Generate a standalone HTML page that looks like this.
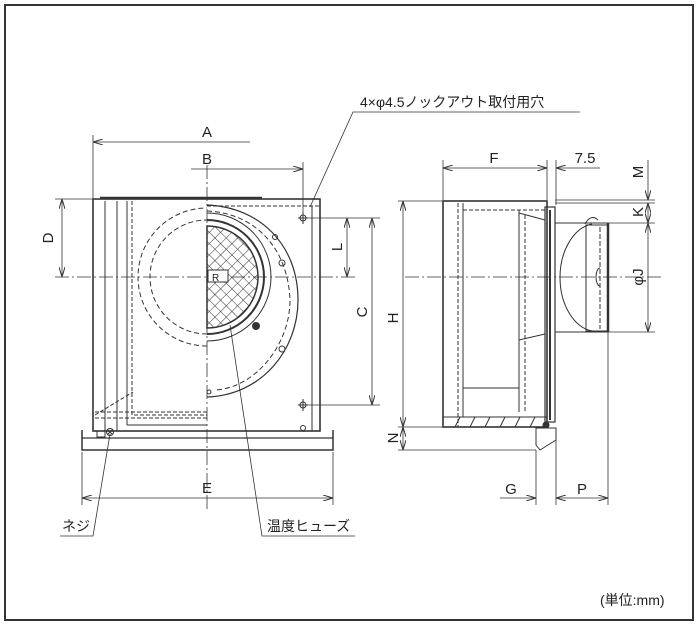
<!DOCTYPE html>
<html><head><meta charset="utf-8"><style>
html,body{margin:0;padding:0;background:#fff;}
svg{display:block;}
text{font-family:"Liberation Sans","Noto Sans CJK JP",sans-serif;fill:#222;}
</style></head><body>
<svg width="700" height="627" viewBox="0 0 700 627" xmlns="http://www.w3.org/2000/svg">
<defs>
<marker id="ar" viewBox="0 0 10 6" refX="10" refY="3" markerWidth="10" markerHeight="6" orient="auto-start-reverse" markerUnits="userSpaceOnUse">
<path d="M0,0 L10,3 L0,6" fill="none" stroke="#333" stroke-width="1"/></marker>
<pattern id="mesh" width="8" height="8" patternUnits="userSpaceOnUse" patternTransform="rotate(45)">
<path d="M0,0 H8 M0,0 V8" stroke="#333" stroke-width="1"/></pattern>
</defs>
<rect x="5" y="5" width="688" height="615" fill="none" stroke="#333" stroke-width="2"/>

<g stroke="#333" fill="none" stroke-width="1">
<!-- center lines -->
<line x1="207" y1="165" x2="207" y2="512" stroke-dasharray="14,3,2,3" stroke-width="0.8"/>
<line x1="55" y1="277" x2="358" y2="277" stroke-dasharray="14,3,2,3" stroke-width="0.8"/>
<line x1="405" y1="277" x2="662" y2="277" stroke-dasharray="14,3,2,3" stroke-width="0.8"/>

<!-- FRONT VIEW -->
<rect x="93" y="199" width="227" height="232" stroke-width="1.6"/>
<line x1="100" y1="198" x2="262" y2="198" stroke-width="2.5"/>
<line x1="105" y1="201" x2="105" y2="431"/>
<line x1="117" y1="201" x2="117" y2="431"/>
<line x1="127" y1="201" x2="127" y2="425"/>
<line x1="312" y1="206" x2="312" y2="431"/>
<line x1="207" y1="206" x2="320" y2="206" stroke-dasharray="4,2"/>
<path d="M132,201 V415 H207" stroke-dasharray="4,2"/>
<path d="M95,412 H207 M95,418 H207" stroke-dasharray="4,2"/>
<line x1="127" y1="425" x2="207" y2="425"/>
<path d="M95,415 L133,392" stroke-dasharray="4,2"/>
<path d="M207,346 A69,69 0 0 1 207,208" stroke-dasharray="5,3"/>
<path d="M207,334 A57,57 0 0 1 207,220" stroke-dasharray="5,3"/>
<!-- right half scroll -->
<path d="M207,205 C260,207 298,245 298,300 C298,350 262,395 207,397" stroke-width="1.2"/>
<path d="M207,211 C255,213 288,248 290,300 C290,345 255,388 215,390" stroke-dasharray="5,3"/>
<path d="M207,213 A64,64 0 0 1 207,341" />
<path d="M207,220 A57,57 0 0 1 207,334" stroke-width="2"/>
<path d="M207,226 A51,51 0 0 1 207,328 Z" fill="url(#mesh)" stroke-width="1.5"/>
<rect x="208" y="270" width="20" height="12" fill="#fff"/>
<text x="212" y="281" font-size="10" stroke="none">R</text>
<circle cx="275" cy="237" r="2.5"/><circle cx="282" cy="263" r="3"/>
<circle cx="256" cy="326" r="3.5" fill="#333"/><circle cx="282" cy="349" r="3"/>
<circle cx="209" cy="392" r="2"/>
<!-- holes -->
<circle cx="303" cy="218" r="3"/><circle cx="303" cy="405" r="3"/><circle cx="303" cy="428" r="2.5"/>
<line x1="298" y1="218" x2="308" y2="218"/><line x1="303" y1="212" x2="303" y2="224"/>
<line x1="298" y1="405" x2="308" y2="405"/><line x1="303" y1="399" x2="303" y2="411"/>
<!-- base plate -->
<path d="M82,430 V450 H333 V430" stroke-width="1.5"/>
<line x1="82" y1="438" x2="333" y2="438" stroke-width="1.3"/>
<circle cx="110" cy="432" r="3.5"/><path d="M108,430 L112,434 M112,430 L108,434"/>
<rect x="97" y="431" width="8" height="6"/>

<!-- dims front -->
<line x1="93" y1="135" x2="93" y2="198" stroke-width="0.8"/>
<line x1="93" y1="142" x2="250" y2="142" marker-start="url(#ar)" stroke-width="0.8"/>
<line x1="303" y1="162" x2="303" y2="212" stroke-width="0.8"/>
<line x1="191" y1="169" x2="303" y2="169" marker-end="url(#ar)" stroke-width="0.8"/>
<line x1="55" y1="199" x2="93" y2="199" stroke-width="0.8"/>
<line x1="62" y1="199" x2="62" y2="277" marker-start="url(#ar)" marker-end="url(#ar)" stroke-width="0.8"/>
<line x1="308" y1="218" x2="380" y2="218" stroke-width="0.8"/>
<line x1="308" y1="405" x2="380" y2="405" stroke-width="0.8"/>
<line x1="347" y1="218" x2="347" y2="277" marker-start="url(#ar)" marker-end="url(#ar)" stroke-width="0.8"/>
<line x1="372" y1="218" x2="372" y2="405" marker-start="url(#ar)" marker-end="url(#ar)" stroke-width="0.8"/>
<line x1="82" y1="452" x2="82" y2="505" stroke-width="0.8"/>
<line x1="333" y1="452" x2="333" y2="505" stroke-width="0.8"/>
<line x1="82" y1="498" x2="333" y2="498" marker-start="url(#ar)" marker-end="url(#ar)" stroke-width="0.8"/>

<!-- SIDE VIEW -->
<rect x="443" y="201" width="104" height="226" stroke-width="1.6"/>
<line x1="458" y1="203" x2="458" y2="427" stroke-dasharray="4,2"/>
<line x1="463" y1="203" x2="463" y2="417"/>
<line x1="463" y1="210" x2="545" y2="210" stroke-dasharray="4,2"/>
<line x1="519" y1="210" x2="519" y2="412"/>
<line x1="525" y1="215" x2="525" y2="412" stroke-dasharray="4,2"/>
<line x1="463" y1="388" x2="519" y2="388"/>
<path d="M519,213 L545,220 M519,340 L545,334"/>
<rect x="443" y="417" width="104" height="10"/>
<path d="M455,427 L460,417 M470,427 L475,417 M485,427 L490,417 M500,427 L505,417 M515,427 L520,417 M530,427 L535,417" />
<rect x="545" y="207" width="10" height="215" stroke-width="1.2"/>
<line x1="550" y1="210" x2="550" y2="420" stroke-width="2"/>
<path d="M536,428 L556,428 V440 L540,450 L536,445 Z"/>
<circle cx="546" cy="425" r="3" fill="#333"/>
<!-- duct -->
<rect x="555" y="223" width="53" height="109"/>
<path d="M592,224 A37,54 0 0 0 592,331"/>
<rect x="586" y="225" width="22" height="106"/>
<path d="M600,227 V329" stroke-dasharray="5,2"/>
<line x1="608" y1="223" x2="608" y2="332" stroke-width="2.5"/>
<path d="M585,224 C590,215 595,217 598,220"/>
<path d="M600,268 a4,9 0 1 0 0,18" />

<!-- dims side -->
<line x1="443" y1="160" x2="443" y2="200" stroke-width="0.8"/>
<line x1="547" y1="160" x2="547" y2="200" stroke-width="0.8"/>
<line x1="556" y1="160" x2="556" y2="205" stroke-width="0.8"/>
<line x1="443" y1="168" x2="547" y2="168" marker-start="url(#ar)" marker-end="url(#ar)" stroke-width="0.8"/>
<line x1="556" y1="168" x2="600" y2="168" marker-start="url(#ar)" stroke-width="0.8"/>
<line x1="555" y1="200" x2="655" y2="200" stroke-width="0.8"/>
<line x1="555" y1="203" x2="655" y2="203" stroke-width="0.8"/>
<line x1="608" y1="223" x2="655" y2="223" stroke-width="0.8"/>
<line x1="608" y1="332" x2="655" y2="332" stroke-width="0.8"/>
<line x1="648" y1="160" x2="648" y2="200" marker-end="url(#ar)" stroke-width="0.8"/>
<line x1="648" y1="203" x2="648" y2="223" marker-start="url(#ar)" marker-end="url(#ar)" stroke-width="0.8"/>
<line x1="648" y1="223" x2="648" y2="332" marker-start="url(#ar)" marker-end="url(#ar)" stroke-width="0.8"/>
<line x1="398" y1="201" x2="443" y2="201" stroke-width="0.8"/>
<line x1="398" y1="427" x2="443" y2="427" stroke-width="0.8"/>
<line x1="398" y1="450" x2="536" y2="450" stroke-width="0.8"/>
<line x1="403" y1="201" x2="403" y2="427" marker-start="url(#ar)" marker-end="url(#ar)" stroke-width="0.8"/>
<line x1="403" y1="427" x2="403" y2="450" marker-start="url(#ar)" marker-end="url(#ar)" stroke-width="0.8"/>
<line x1="536" y1="450" x2="536" y2="505" stroke-width="0.8"/>
<line x1="556" y1="440" x2="556" y2="505" stroke-width="0.8"/>
<line x1="608" y1="332" x2="608" y2="505" stroke-width="0.8"/>
<line x1="500" y1="498" x2="536" y2="498" marker-end="url(#ar)" stroke-width="0.8"/>
<line x1="556" y1="498" x2="608" y2="498" marker-start="url(#ar)" marker-end="url(#ar)" stroke-width="0.8"/>

<!-- leaders -->
<path d="M580,112 H353 L310,207" stroke-width="0.8"/>
<path d="M60,536 H93 L110,434" stroke-width="0.8"/>
<path d="M355,536 H262 L230,325" stroke-width="0.8"/>
</g>

<g font-size="15" text-anchor="middle">
<text x="207" y="137">A</text>
<text x="207" y="164">B</text>
<text x="494" y="163">F</text>
<text x="585" y="163">7.5</text>
<text x="207" y="493">E</text>
<text x="511" y="494">G</text>
<text x="582" y="494">P</text>
<text transform="translate(53,238) rotate(-90)">D</text>
<text transform="translate(342,247) rotate(-90)">L</text>
<text transform="translate(367,312) rotate(-90)">C</text>
<text transform="translate(398,318) rotate(-90)">H</text>
<text transform="translate(398,438) rotate(-90)">N</text>
<text transform="translate(643,172) rotate(-90)">M</text>
<text transform="translate(643,212) rotate(-90)">K</text>
<text transform="translate(643,277) rotate(-90)">φJ</text>
</g>
<g font-size="14">
<text x="360" y="107">4×φ4.5ノックアウト取付用穴</text>
<text x="62" y="531">ネジ</text>
<text x="267" y="531">温度ヒューズ</text>
<text x="600" y="605">(単位:mm)</text>
</g>
</svg>
</body></html>
